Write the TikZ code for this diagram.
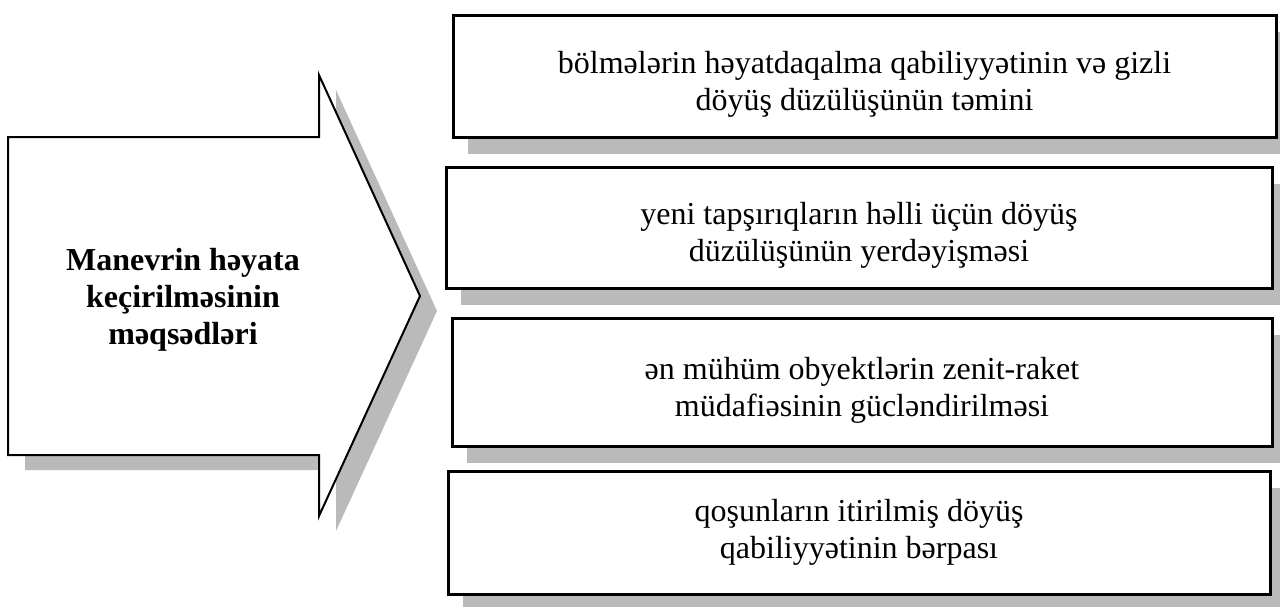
\documentclass[tikz,border=0pt]{standalone}
\usepackage{fontspec}
\setmainfont{Liberation Serif}
\newcommand{\lowerstrut}{\rule{0pt}{38pt}}
\begin{document}
\begin{tikzpicture}[x=1pt,y=-1pt,
  shadowfill/.style={fill=black!27,draw=none},
  goalbox/.style={draw=black,line width=3pt,fill=white,align=center,inner sep=0pt,
    font=\fontsize{32}{37}\selectfont},
  arrowline/.style={draw=black,line width=2pt,fill=white,line join=miter}]
\useasboundingbox (0,0) rectangle (1280,606);
% big arrow: shadow then shape
\fill[shadowfill] (25,152) -- (336,152) -- (336,90) -- (437,311) -- (336,531) -- (336,470) -- (25,470) -- cycle;
\path[arrowline] (8,137) -- (319,137) -- (319,75) -- (420,296) -- (319,516) -- (319,455) -- (8,455) -- cycle;
\node[font=\bfseries\fontsize{32}{37}\selectfont,align=center] (main) at (183,300)
  {Manevrin həyata\\keçirilməsinin\\məqsədləri};
% box shadows
\fill[shadowfill] (468,32) rectangle (1291,154);
\fill[shadowfill] (461,184) rectangle (1287,305);
\fill[shadowfill] (467,335) rectangle (1287,463);
\fill[shadowfill] (463,488) rectangle (1285,611);
% boxes
\node[goalbox,minimum width=823pt,minimum height=122pt] (b1) at (864.5,76)
  {\lowerstrut bölmələrin həyatdaqalma qabiliyyətinin və gizli\\döyüş düzülüşünün təmini};
\node[goalbox,minimum width=826pt,minimum height=121pt] (b2) at (859,227.5)
  {\lowerstrut yeni tapşırıqların həlli üçün döyüş\\düzülüşünün yerdəyişməsi};
\node[goalbox,minimum width=820pt,minimum height=128pt] (b3) at (862,382)
  {\lowerstrut ən mühüm obyektlərin zenit-raket\\müdafiəsinin gücləndirilməsi};
\node[goalbox,minimum width=822pt,minimum height=123pt] (b4) at (859,532.5)
  {qoşunların itirilmiş döyüş\\qabiliyyətinin bərpası};
\end{tikzpicture}
\end{document}
